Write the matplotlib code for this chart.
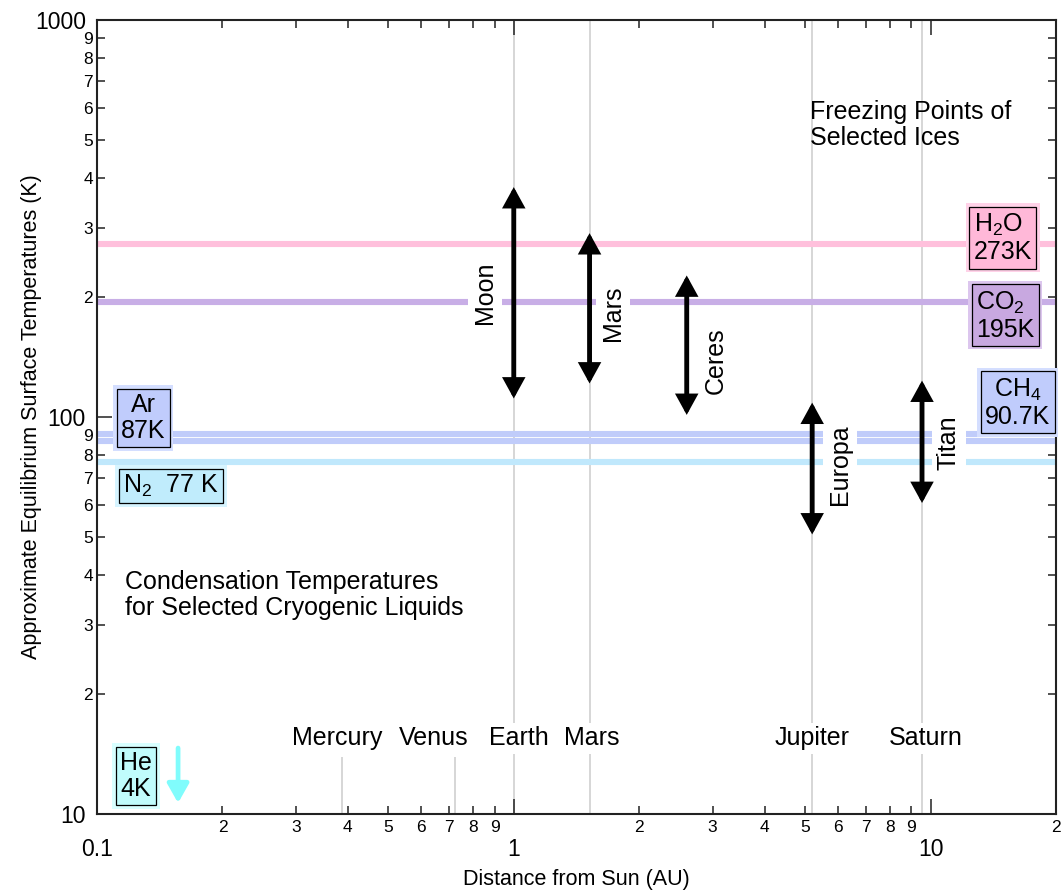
import math
import matplotlib
matplotlib.use("Agg")
import matplotlib.pyplot as plt
from matplotlib.patches import FancyArrowPatch
from matplotlib.ticker import LogLocator, FuncFormatter, FixedLocator

plt.rcParams['font.family'] = ['Liberation Sans', 'DejaVu Sans']
plt.rcParams['mathtext.fontset'] = 'custom'
plt.rcParams['mathtext.rm'] = 'Liberation Sans'
plt.rcParams['mathtext.it'] = 'Liberation Sans:italic'
plt.rcParams['mathtext.bf'] = 'Liberation Sans:bold'

# ---------------- data ----------------
# condensation / freezing temperatures (K)
h2o_temp = 273
co2_temp = 195
ch4_temp = 90.7
ar_temp = 87
n2_temp = 77
he_temp = 4

# planets (AU)
planet_names = ["Mercury", "Venus", "Earth", "Mars", "Jupiter", "Saturn"]
planet_dist = [0.387, 0.723, 1.0, 1.52, 5.2, 9.54]
planet_label_x = [0.377, 0.644, 1.03, 1.535, 5.21, 9.73]
planet_full = [False, False, True, True, True, True]

# bodies with temperature ranges
body_names = ["Moon", "Mars", "Ceres", "Europa", "Titan"]
body_dist = [1.0, 1.52, 2.6, 5.2, 9.54]
body_tmin = [110, 120, 100, 50, 60]
body_tmax = [384, 294, 230, 110, 125]
body_label_x = [0.854, 1.734, 3.046, 6.08, 11.05]
body_label_y = [206, 183, 139, 75.7, 86.0]

xmin, xmax = 0.1, 20
ymin, ymax = 10, 1000

# ---------------- figure ----------------
W, H = 1063, 894
fig = plt.figure(figsize=(W / 100, H / 100), dpi=100)
ax = fig.add_axes([97 / W, 1 - 814 / H, (1056 - 97) / W, (814 - 20) / H])
ax.set_xscale('log')
ax.set_yscale('log')
ax.set_xlim(xmin, xmax)
ax.set_ylim(ymin, ymax)

for s in ax.spines.values():
    s.set_linewidth(1.5)
    s.set_color('#222222')


def minor_label(v, p):
    return str(int(round(v / 10 ** math.floor(math.log10(v) + 1e-9))))


ax.xaxis.set_major_locator(FixedLocator([0.1, 1, 10]))
ax.yaxis.set_major_locator(FixedLocator([10, 100, 1000]))
ax.xaxis.set_minor_locator(LogLocator(base=10, subs=range(2, 10), numticks=20))
ax.yaxis.set_minor_locator(LogLocator(base=10, subs=range(2, 10), numticks=20))
ax.xaxis.set_major_formatter(FuncFormatter(lambda v, p: '%g' % v))
ax.yaxis.set_major_formatter(FuncFormatter(lambda v, p: '%g' % v))
ax.xaxis.set_minor_formatter(FuncFormatter(minor_label))
ax.yaxis.set_minor_formatter(FuncFormatter(minor_label))

ax.tick_params(which='both', direction='in', top=True, right=True, width=1.1, color='#222222')
ax.tick_params(which='major', length=11, labelsize=16.5)
ax.tick_params(which='minor', length=6, labelsize=12.5)
ax.tick_params(axis='x', which='major', pad=17)
ax.tick_params(axis='x', which='minor', pad=4)
ax.tick_params(axis='y', which='major', pad=8)
ax.tick_params(axis='y', which='minor', pad=3)

ax.set_xlabel("Distance from Sun (AU)", fontsize=15.5)
ax.set_ylabel("Approximate Equilibrium Surface Temperatures (K)", fontsize=15.5)
ax.xaxis.set_label_coords(0.5, -0.069)
ax.yaxis.set_label_coords(-0.057, 0.5)

# planet vertical lines
gray = '#d0d0d0'
for d, full in zip(planet_dist, planet_full):
    ax.vlines(d, ymin, ymax if full else 13.9, color=gray, lw=1.2, zorder=1)

# horizontal temperature lines
lw_h = 4.4
ax.axhline(h2o_temp, color='#ffc0dc', lw=lw_h, zorder=2)
ax.axhline(co2_temp, color='#c8aee6', lw=lw_h, zorder=2)
ax.axhline(ch4_temp, color='#c0ccfa', lw=lw_h, zorder=2)
ax.axhline(ar_temp, color='#c0ccfa', lw=lw_h, zorder=2)
ax.axhline(n2_temp, color='#c0e8fc', lw=lw_h, zorder=2)

FS = 18


def boxed(x, y, txt, fc, halo, ma='center'):
    ax.text(x, y, txt, fontsize=FS, ha='center', va='center', color='none', multialignment=ma,
            linespacing=1.1,
            bbox=dict(boxstyle='square,pad=0.31', fc=halo, ec='none'), zorder=5)
    ax.text(x, y, txt, fontsize=FS, ha='center', va='center', color='black', multialignment=ma,
            linespacing=1.1,
            bbox=dict(boxstyle='square,pad=0.17', fc=fc, ec='black', lw=0.9), zorder=6)


boxed(14.9, 282, "H$_\\mathregular{2}$O\n%dK" % h2o_temp, '#ffb8d8', '#ffd2e8', ma='left')
boxed(15.1, 180, "CO$_\\mathregular{2}$\n%dK" % co2_temp, '#c8a8e0', '#dcc6ee', ma='left')
boxed(16.2, 108.5, "CH$_\\mathregular{4}$\n%gK" % ch4_temp, '#c0ccfc', '#d4deff', ma='center')
boxed(0.129, 99.4, "Ar\n%dK" % ar_temp, '#c0ccfc', '#d4deff', ma='center')
boxed(0.1505, 67.0, "N$_\\mathregular{2}$  %d K" % n2_temp, '#c0ecfc', '#d6f4ff', ma='left')
boxed(0.124, 12.46, "He\n%dK" % he_temp, '#c0fcfc', '#d8ffff', ma='left')

# He arrow
ax.add_patch(FancyArrowPatch((0.1565, 14.66), (0.1565, 10.66),
                             arrowstyle='-|>,head_length=11.5,head_width=6.5',
                             mutation_scale=1, lw=3.4, color='#80fcfc',
                             shrinkA=0, shrinkB=0, zorder=6))

# body temperature range arrows
for name, d, lo, hi, lx, ly in zip(body_names, body_dist, body_tmin, body_tmax, body_label_x, body_label_y):
    ax.add_patch(FancyArrowPatch((d, lo), (d, hi),
                                 arrowstyle='<|-|>,head_length=10,head_width=5.5',
                                 mutation_scale=1, lw=3.5, color='black',
                                 shrinkA=1.5, shrinkB=1.5, zorder=7, joinstyle='miter'))
    ax.text(lx, ly, name, rotation=90, fontsize=FS, ha='center', va='center',
            bbox=dict(boxstyle='square,pad=0.2', fc='white', ec='none'), zorder=4)

# planet labels
for name, lx in zip(planet_names, planet_label_x):
    ax.text(lx, 15.5, name, fontsize=FS, ha='center', va='center',
            bbox=dict(boxstyle='square,pad=0.15', fc='white', ec='none'), zorder=4)

# annotations
ax.text(5.15, 544, "Freezing Points of\nSelected Ices", fontsize=FS, ha='left', va='center',
        linespacing=1.1, zorder=4)
ax.text(0.1167, 35.6, "Condensation Temperatures\nfor Selected Cryogenic Liquids", fontsize=FS,
        ha='left', va='center', linespacing=1.1, zorder=4)

fig.savefig("out.png", dpi=100)
